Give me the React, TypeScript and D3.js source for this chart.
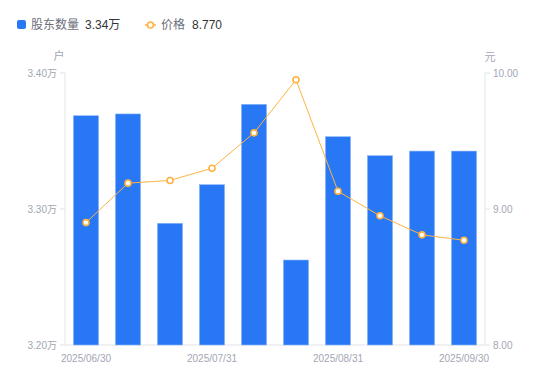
import React from "react";
import * as d3 from "d3";

const categories = [
  "2025/06/30", "2025/07/10", "2025/07/20", "2025/07/31", "2025/08/10",
  "2025/08/20", "2025/08/31", "2025/09/10", "2025/09/19", "2025/09/30",
];
const holders = [33686, 33699, 32895, 33179, 33770, 32625, 33532, 33392, 33426, 33426];
const prices = [8.9, 9.19, 9.21, 9.3, 9.56, 9.95, 9.13, 8.95, 8.81, 8.77];
const holderTicks = [32000, 33000, 34000];
const priceTicks = [8, 9, 10];
const shownLabels = ["2025/06/30", "2025/07/31", "2025/08/31", "2025/09/30"];

const W = 550;
const H = 381;
const L = 65;
const R = 485;
const T = 73;
const B = 345;

const FONT = "'Liberation Sans', Arial, 'Noto Sans CJK SC', sans-serif";
const BLUE = "#2878f5";
const ORANGE = "#ffb23f";
const AXIS = "#e3e4e8";
const LABEL = "#a3a6b4";

export default function App() {
  const x = d3.scaleBand<string>().domain(categories).range([L, R]).paddingInner(0.4).paddingOuter(0.2);
  const yL = d3.scaleLinear().domain([32000, 34000]).range([B, T]);
  const yR = d3.scaleLinear().domain([8, 10]).range([B, T]);
  const bw = x.bandwidth();
  const cx = (c: string) => (x(c) as number) + bw / 2;
  const line = d3
    .line<number>()
    .x((_, i) => cx(categories[i]))
    .y((d) => yR(d));

  const lastH = holders[holders.length - 1];
  const lastP = prices[prices.length - 1];

  return (
    <svg
      width={W}
      height={H}
      style={{ position: "absolute", left: 0, top: 0, fontFamily: FONT }}
    >
      {/* legend */}
      <rect x={17} y={20} width={9} height={9} rx={2} fill={BLUE} />
      <text x={31} y={25} dominantBaseline="central" fontSize={12} fill="#6b6e7a">股东数量</text>
      <text x={85} y={25} dominantBaseline="central" fontSize={12} fill="#333">
        {(lastH / 10000).toFixed(2)}万
      </text>
      <line x1={145} x2={156} y1={25} y2={25} stroke={ORANGE} strokeWidth={1.5} />
      <circle cx={150.5} cy={25} r={3} fill="#fff" stroke={ORANGE} strokeWidth={1.6} />
      <text x={161} y={25} dominantBaseline="central" fontSize={12} fill="#6b6e7a">价格</text>
      <text x={192} y={25} dominantBaseline="central" fontSize={12} fill="#333">
        {lastP.toFixed(3)}
      </text>

      {/* unit labels */}
      <text x={59} y={56} textAnchor="middle" dominantBaseline="central" fontSize={11} fill={LABEL}>户</text>
      <text x={490} y={57} textAnchor="middle" dominantBaseline="central" fontSize={11} fill={LABEL}>元</text>

      {/* axes */}
      <line x1={L} x2={L} y1={T} y2={B} stroke={AXIS} />
      <line x1={R} x2={R} y1={T} y2={B} stroke={AXIS} />
      <line x1={L} x2={R} y1={B} y2={B} stroke={AXIS} />
      {holderTicks.map((t) => (
        <g key={"l" + t}>
          <line x1={L - 5} x2={L} y1={yL(t)} y2={yL(t)} stroke={AXIS} />
          <text x={L - 8} y={yL(t)} textAnchor="end" dominantBaseline="central" fontSize={10} fill={LABEL}>
            {(t / 10000).toFixed(2)}万
          </text>
        </g>
      ))}
      {priceTicks.map((t) => (
        <g key={"r" + t}>
          <line x1={R} x2={R + 5} y1={yR(t)} y2={yR(t)} stroke={AXIS} />
          <text x={R + 8} y={yR(t)} dominantBaseline="central" fontSize={10} fill={LABEL}>
            {t.toFixed(2)}
          </text>
        </g>
      ))}
      {shownLabels.map((c) => (
        <text key={c} x={cx(c)} y={358} textAnchor="middle" dominantBaseline="central" fontSize={10} fill={LABEL}>
          {c}
        </text>
      ))}

      {/* bars */}
      {holders.map((v, i) => (
        <rect
          key={i}
          x={x(categories[i]) as number}
          y={yL(v)}
          width={bw}
          height={B - yL(v)}
          fill={BLUE}
          stroke="#8fb9fa"
          strokeWidth={0.6}
        />
      ))}

      {/* price line */}
      <path d={line(prices) || ""} fill="none" stroke={ORANGE} strokeWidth={1} />
      {prices.map((p, i) => (
        <circle key={i} cx={cx(categories[i])} cy={yR(p)} r={3} fill="#fff" stroke={ORANGE} strokeWidth={1.6} />
      ))}
    </svg>
  );
}
